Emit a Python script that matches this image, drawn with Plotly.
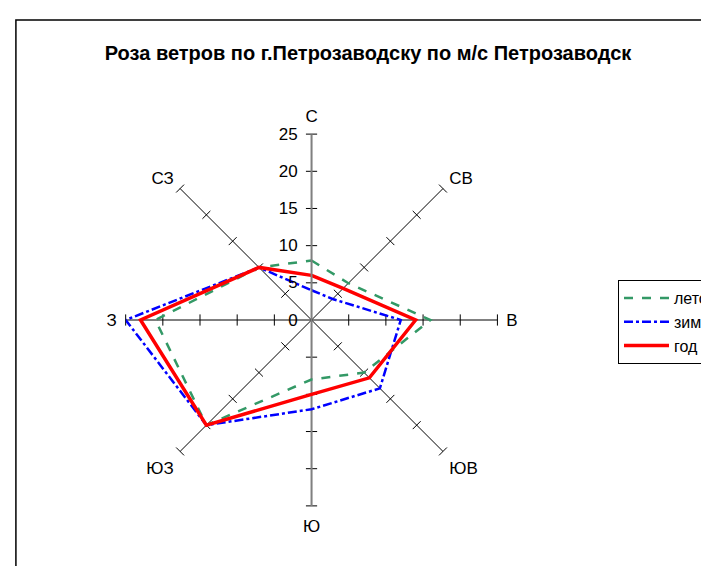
import plotly.graph_objects as go

directions = ["С", "СВ", "В", "ЮВ", "Ю", "ЮЗ", "З", "СЗ"]
leto = [8, 7, 16, 10, 8, 20, 21, 10]
zima = [4, 4, 12, 13, 12, 20, 25, 10]
god = [6, 6, 14, 11, 10, 20, 23, 10]
radial_ticks = [0, 5, 10, 15, 20, 25]

W, H = 709, 566
cx, cy, R = 307, 312, 188


def closed(v):
    return list(v) + [v[0]]


fig = go.Figure()

# cross ticks on every spoke
tick_r, tick_t, tick_a = [], [], []
for i, d in enumerate(directions):
    for t in radial_ticks[1:]:
        tick_r.append(t)
        tick_t.append(d)
        tick_a.append(i * 45)
fig.add_trace(go.Scatterpolar(
    r=tick_r, theta=tick_t, mode="markers", showlegend=False, hoverinfo="skip",
    marker=dict(symbol="line-ew", size=8, angle=tick_a,
                line=dict(color="black", width=1)),
))

# gray vertical (value) axis, south part
fig.add_trace(go.Scatterpolar(
    r=[0, 25], theta=["Ю", "Ю"], mode="lines", showlegend=False, hoverinfo="skip",
    line=dict(color="#808080", width=2),
))

fig.add_trace(go.Scatterpolar(
    r=closed(leto), theta=closed(directions), name="лето", mode="lines",
    line=dict(color="#339966", width=2.5, dash="dash"),
))
fig.add_trace(go.Scatterpolar(
    r=closed(zima), theta=closed(directions), name="зима", mode="lines",
    line=dict(color="#0000FF", width=2.5, dash="dashdot"),
))
fig.add_trace(go.Scatterpolar(
    r=closed(god), theta=closed(directions), name="год", mode="lines",
    line=dict(color="#FF0000", width=3.5),
))

fig.update_layout(
    width=W, height=H,
    margin=dict(l=0, r=0, t=0, b=0),
    paper_bgcolor="white",
    font=dict(family="Arial, Liberation Sans", size=17, color="black"),
    title=dict(text="<b>Роза ветров по г.Петрозаводску по м/с Петрозаводск</b>",
               x=360 / W, xanchor="center", y=1 - 45 / H, yanchor="middle",
               font=dict(size=20)),
    polar=dict(
        domain=dict(x=[(cx - R) / W, (cx + R) / W], y=[1 - (cy + R) / H, 1 - (cy - R) / H]),
        bgcolor="white",
        angularaxis=dict(direction="clockwise", rotation=90, showline=False,
                         showgrid=True, gridcolor="black", gridwidth=1,
                         ticks="outside", ticklen=5, tickcolor="rgba(0,0,0,0)",
                         tickfont=dict(size=17)),
        radialaxis=dict(range=[0, 25], tickvals=radial_ticks, angle=90,
                        side="counterclockwise", tickangle=90,
                        showgrid=False, showline=True, linecolor="#808080", linewidth=2,
                        ticks="outside", ticklen=7, tickcolor="rgba(0,0,0,0)",
                        tickfont=dict(size=17)),
    ),
    legend=dict(x=617 / W, y=1 - 272 / H, xanchor="left", yanchor="top",
                bordercolor="black", borderwidth=1, bgcolor="white",
                itemwidth=45, font=dict(size=16)),
    shapes=[dict(type="rect", xref="paper", yref="paper",
                 x0=8 / W, x1=1.02, y0=-0.02, y1=1 - 12 / H,
                 line=dict(color="black", width=1.5))],
)

fig.write_html("out.html")
